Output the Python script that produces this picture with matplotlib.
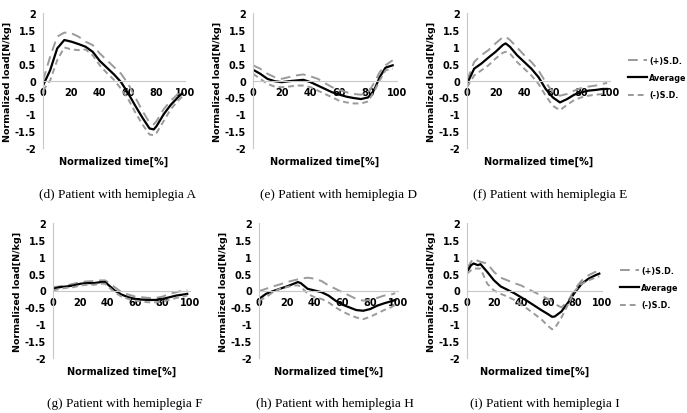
import numpy as np
import matplotlib
matplotlib.use("Agg")
import matplotlib.pyplot as plt

# data (normalized time [%], normalized load [N/kg])
x_d = [0, 5, 10, 15, 20, 25, 30, 35, 40, 45, 50, 55, 60, 65, 70, 75, 78, 80, 85, 90, 95, 98]
avg_d = [-0.15, 0.3, 0.95, 1.2, 1.15, 1.08, 1.0, 0.85, 0.58, 0.38, 0.18, -0.05, -0.38, -0.75, -1.1, -1.42, -1.45, -1.35, -1.0, -0.72, -0.5, -0.38]
up_d = [0.0, 0.7, 1.3, 1.42, 1.4, 1.3, 1.15, 1.05, 0.8, 0.6, 0.4, 0.2, -0.1, -0.5, -0.9, -1.25, -1.3, -1.2, -0.85, -0.6, -0.4, -0.28]
lo_d = [-0.3, 0.0, 0.6, 0.98, 0.92, 0.9, 0.92, 0.75, 0.45, 0.22, 0.02, -0.25, -0.55, -0.95, -1.3, -1.6, -1.62, -1.55, -1.2, -0.85, -0.6, -0.48]

x_e = [0, 5, 10, 15, 20, 25, 30, 35, 40, 45, 50, 55, 60, 65, 70, 75, 80, 83, 85, 88, 92, 97]
avg_e = [0.32, 0.2, 0.05, -0.02, -0.05, -0.02, 0.0, 0.02, -0.05, -0.15, -0.25, -0.35, -0.42, -0.48, -0.52, -0.55, -0.5, -0.35, -0.2, 0.1, 0.38, 0.45]
up_e = [0.45, 0.35, 0.2, 0.1, 0.05, 0.1, 0.15, 0.18, 0.12, 0.05, -0.08, -0.2, -0.28, -0.35, -0.4, -0.42, -0.35, -0.15, 0.0, 0.25, 0.45, 0.6]
lo_e = [0.2, 0.05, -0.1, -0.18, -0.2, -0.18, -0.15, -0.15, -0.2, -0.3, -0.4, -0.5, -0.6, -0.65, -0.68, -0.68, -0.62, -0.4, -0.25, 0.0, 0.3, 0.35]

x_f = [0, 5, 10, 15, 20, 25, 27, 30, 35, 40, 45, 50, 55, 60, 65, 70, 75, 80, 85, 90, 95, 98]
avg_f = [-0.1, 0.35, 0.5, 0.68, 0.85, 1.05, 1.1, 1.0, 0.75, 0.55, 0.35, 0.1, -0.25, -0.5, -0.65, -0.55, -0.42, -0.35, -0.3, -0.28, -0.25, -0.25]
up_f = [0.0, 0.55, 0.75, 0.9, 1.1, 1.28, 1.3, 1.2, 0.98, 0.75, 0.55, 0.3, -0.05, -0.35, -0.45, -0.4, -0.3, -0.22, -0.18, -0.15, -0.1, -0.07]
lo_f = [-0.2, 0.15, 0.3, 0.45, 0.65, 0.82, 0.85, 0.8, 0.55, 0.35, 0.15, -0.1, -0.45, -0.75, -0.88, -0.72, -0.58, -0.5, -0.45, -0.42, -0.4, -0.38]

x_g = [0, 5, 10, 15, 20, 25, 30, 35, 38, 40, 45, 50, 55, 60, 65, 70, 75, 80, 85, 90, 95, 98]
avg_g = [0.05, 0.1, 0.12, 0.15, 0.2, 0.22, 0.22, 0.25, 0.25, 0.18, 0.0, -0.12, -0.2, -0.25, -0.27, -0.28, -0.28, -0.25, -0.2, -0.15, -0.12, -0.1]
up_g = [0.1, 0.12, 0.15, 0.2, 0.25, 0.27, 0.28, 0.3, 0.3, 0.25, 0.1, -0.05, -0.12, -0.18, -0.2, -0.22, -0.22, -0.18, -0.1, -0.05, 0.0, 0.02]
lo_g = [0.0, 0.05, 0.08, 0.1, 0.15, 0.17, 0.17, 0.2, 0.2, 0.12, -0.05, -0.18, -0.25, -0.3, -0.33, -0.35, -0.35, -0.32, -0.28, -0.22, -0.18, -0.15]

x_h = [0, 5, 10, 15, 20, 25, 28, 30, 35, 40, 45, 50, 55, 60, 65, 70, 75, 80, 85, 90, 95, 98]
avg_h = [-0.25, -0.1, -0.02, 0.05, 0.12, 0.2, 0.25, 0.22, 0.05, 0.0, -0.05, -0.15, -0.3, -0.42, -0.5, -0.58, -0.6, -0.55, -0.45, -0.38, -0.32, -0.28]
up_h = [-0.02, 0.05, 0.12, 0.18, 0.25, 0.3, 0.33, 0.35, 0.38, 0.35, 0.28, 0.15, 0.05, -0.05, -0.15, -0.25, -0.3, -0.28, -0.22, -0.15, -0.12, -0.08]
lo_h = [-0.3, -0.2, -0.05, 0.05, 0.1, 0.15, 0.15, 0.12, -0.1, -0.2, -0.25, -0.35, -0.5, -0.62, -0.72, -0.8, -0.85, -0.78, -0.68, -0.58, -0.5, -0.42]

x_i = [0, 3, 5, 8, 10, 15, 20, 25, 30, 35, 40, 45, 50, 55, 60, 63, 65, 70, 75, 80, 85, 90, 95, 98]
avg_i = [0.55, 0.75, 0.8, 0.75, 0.78, 0.55, 0.3, 0.12, 0.02, -0.08, -0.2, -0.32, -0.45, -0.58, -0.7, -0.78, -0.77, -0.62, -0.35, -0.05, 0.2, 0.35, 0.45, 0.5]
up_i = [0.65, 0.85, 0.95, 0.88, 0.85, 0.8, 0.55, 0.38, 0.3, 0.22, 0.15, 0.05, -0.05, -0.15, -0.25, -0.32, -0.4, -0.5, -0.3, 0.05, 0.3, 0.45, 0.55, 0.55]
lo_i = [0.5, 0.6, 0.65, 0.65, 0.65, 0.2, 0.0, -0.1, -0.18, -0.28, -0.42, -0.55, -0.7, -0.85, -1.05, -1.15, -1.12, -0.8, -0.4, 0.0, 0.2, 0.3, 0.38, 0.42]

captions = ["(d) Patient with hemiplegia A", "(e) Patient with hemiplegia D", "(f) Patient with hemiplegia E",
            "(g) Patient with hemiplegia F", "(h) Patient with hemiplegia H", "(i) Patient with hemiplegia I"]
series = [(x_d, up_d, avg_d, lo_d), (x_e, up_e, avg_e, lo_e), (x_f, up_f, avg_f, lo_f),
          (x_g, up_g, avg_g, lo_g), (x_h, up_h, avg_h, lo_h), (x_i, up_i, avg_i, lo_i)]

W, H = 687, 414
# axes boxes in pixels: left, top, right, bottom
boxes = [(43, 14, 185, 149), (253, 14, 397, 149), (467, 14, 610, 149),
         (53, 224, 190, 359), (259, 224, 398, 359), (467, 224, 602, 359)]
cap_pos = [(118, 195), (339, 195), (550, 195), (125, 404), (335, 404), (545, 404)]

fig = plt.figure(figsize=(W / 100, H / 100), dpi=100)
GREY = "#9a9a9a"
AXC = "#c8c8c8"

for k, (box, (x, up, avg, lo)) in enumerate(zip(boxes, series)):
    l, t, r, b = box
    ax = fig.add_axes([l / W, 1 - b / H, (r - l) / W, (b - t) / H])
    ax.plot(x, up, color=GREY, lw=1.4, dashes=(5, 3), label="(+)S.D.")
    ax.plot(x, avg, color="black", lw=1.6, label="Average")
    ax.plot(x, lo, color=GREY, lw=1.4, dashes=(3, 2), label="(-)S.D.")
    ax.set_xlim(0, 100)
    ax.set_ylim(-2, 2)
    ax.set_xticks([0, 20, 40, 60, 80, 100])
    ax.set_yticks([2, 1.5, 1, 0.5, 0, -0.5, -1, -1.5, -2])
    ax.set_yticklabels(["2", "1.5", "1", "0.5", "0", "-0.5", "-1", "-1.5", "-2"])
    ax.spines["top"].set_visible(False)
    ax.spines["right"].set_visible(False)
    ax.spines["bottom"].set_position(("data", 0))
    ax.spines["bottom"].set_color(AXC)
    ax.spines["left"].set_color(AXC)
    ax.tick_params(axis="y", length=0, labelsize=7, pad=5)
    ax.tick_params(axis="x", length=0, labelsize=7, pad=5)
    for lab in ax.get_xticklabels() + ax.get_yticklabels():
        lab.set_fontweight("bold")
    ax.set_xlabel("Normalized time[%]", fontsize=7, fontweight="bold")
    ax.xaxis.set_label_coords(0.5, -0.06)
    ax.set_ylabel("Normalized load[N/kg]", fontsize=6.8, fontweight="bold", labelpad=2)
    ax.patch.set_alpha(0)
    if k in (2, 5):
        ax.legend(loc="center left", bbox_to_anchor=(1 + 18 / (r - l), 0.52), frameon=False,
                  handlelength=2.3, handletextpad=0.35, labelspacing=1.0,
                  borderpad=0, borderaxespad=0,
                  prop={"weight": "bold", "size": 5.8})
    cx, cy = cap_pos[k]
    fig.text(cx / W, 1 - cy / H, captions[k], ha="center", va="center",
             fontsize=9.5, family="Liberation Serif")

fig.savefig("out.png", dpi=100)
